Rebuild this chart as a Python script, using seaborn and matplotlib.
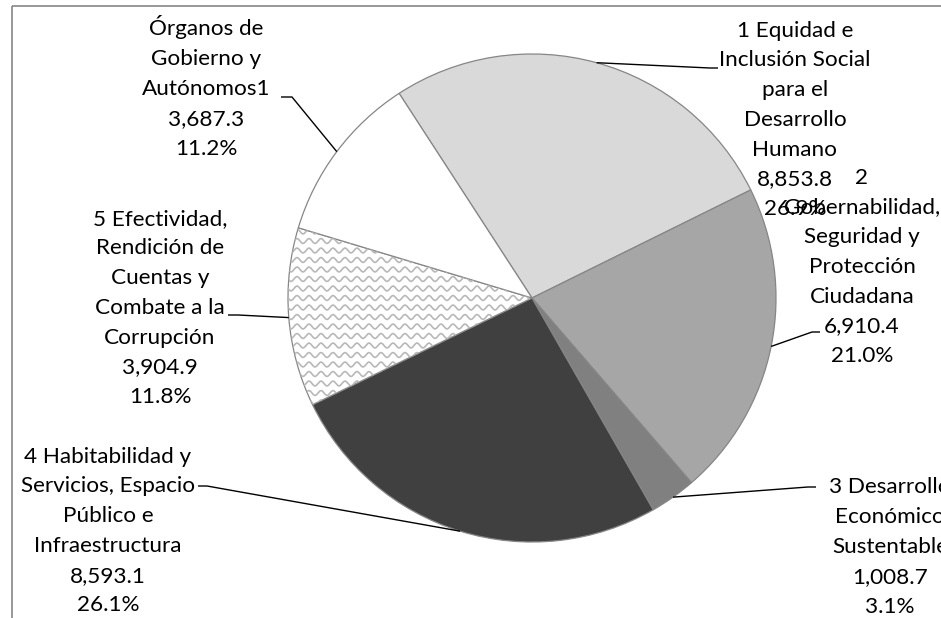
import numpy as np
import matplotlib
matplotlib.use("Agg")
import matplotlib.pyplot as plt
from matplotlib.patches import Rectangle
import seaborn as sns

# Presupuesto por eje (valores y porcentaje)
ejes = [
    "1 Equidad e\nInclusión Social\npara el\nDesarrollo\nHumano",
    "2\nGobernabilidad,\nSeguridad y\nProtección\nCiudadana",
    "3 Desarrollo\nEconómico\nSustentable",
    "4 Habitabilidad y\nServicios, Espacio\nPúblico e\nInfraestructura",
    "5 Efectividad,\nRendición de\nCuentas y\nCombate a la\nCorrupción",
    "Órganos de\nGobierno y\nAutónomos1",
]
montos = [8853.8, 6910.4, 1008.7, 8593.1, 3904.9, 3687.3]
colores = ["#d9d9d9", "#a6a6a6", "#808080", "#404040", "#ffffff", "#ffffff"]

# posiciones de las etiquetas (centro del texto) y de las líneas guía, en pixeles
pos_texto = [(795, 120), (862, 267), (890, 547), (108, 531), (160, 308), (206, 87)]
codo = [(710, 68), (812, 332), (808, 487), (207, 486), (238, 315), (292, 97)]
fin = [(718, 68), (820, 332), (816, 487), (198, 486), (228, 315), (281, 97)]

sns.set_style("white")
plt.rcParams["font.family"] = ["Lato", "DejaVu Sans"]

W, H = 941, 618
fig = plt.figure(figsize=(W / 100, H / 100), dpi=100)
ax = fig.add_axes([0, 0, 1, 1])

cx, cy, r = 532, 298, 244
wedges, _ = ax.pie(
    montos,
    colors=colores,
    startangle=-123,
    counterclock=True,
    center=(cx, cy),
    radius=r,
    wedgeprops=dict(edgecolor="#868686", linewidth=0.9),
)
ax.set_xlim(0, W)
ax.set_ylim(H, 0)
ax.set_aspect("equal")
ax.axis("off")

# patrón ondulado para el eje 5
w5 = wedges[4]
xs = np.linspace(270, 560, 600)
for y0 in np.arange(222, 420, 9.5):
    ln, = ax.plot(xs, y0 + 2.4 * np.sin(2 * np.pi * xs / 12), color="#b8b8b8", lw=1.2)
    ln.set_clip_path(w5)

# contorno del gráfico
ax.add_patch(Rectangle((12, 6), 1000, 700, fill=False, edgecolor="#868686", lw=1.2))

total = sum(montos)
for i, (w, nombre, m) in enumerate(zip(wedges, ejes, montos)):
    ang = np.deg2rad((w.theta1 + w.theta2) / 2)
    px, py = cx + r * np.cos(ang), cy + r * np.sin(ang)
    ax.plot([px, codo[i][0], fin[i][0]], [py, codo[i][1], fin[i][1]],
            color="black", lw=1.0, solid_capstyle="butt")
    etiqueta = f"{nombre}\n{m:,.1f}\n{m / total * 100:.1f}%"
    ax.text(pos_texto[i][0], pos_texto[i][1], etiqueta, ha="center", va="center",
            fontsize=16.2, linespacing=1.61, color="black")

fig.savefig("out.png", dpi=100)
